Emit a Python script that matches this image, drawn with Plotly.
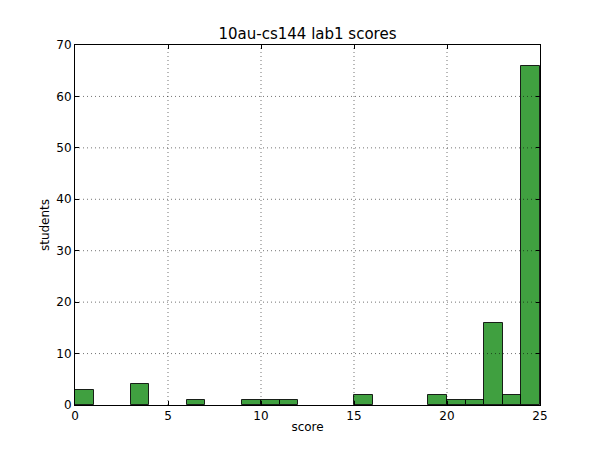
import plotly.graph_objects as go

bin_left = [0, 3, 6, 9, 10, 11, 15, 19, 20, 21, 22, 23, 24]
counts = [3, 4, 1, 1, 1, 1, 2, 2, 1, 1, 16, 2, 66]
bin_width = 1
title = "10au-cs144 lab1 scores"
x_ticks = [0, 5, 10, 15, 20, 25]
y_ticks = [0, 10, 20, 30, 40, 50, 60, 70]

centers = [b + bin_width / 2 for b in bin_left]

fig = go.Figure(go.Bar(
    x=centers, y=counts, width=bin_width,
    marker=dict(color="rgba(0,128,0,0.75)",
                line=dict(color="rgba(0,0,0,0.85)", width=1)),
))

grid_line = dict(color="rgba(0,0,0,0.55)", width=1, dash="1px,3px")
shapes = []
for xv in x_ticks[1:-1]:
    shapes.append(dict(type="line", xref="x", yref="paper", x0=xv, x1=xv, y0=0, y1=1,
                       line=grid_line, layer="above"))
for yv in y_ticks[1:-1]:
    shapes.append(dict(type="line", xref="paper", yref="y", x0=0, x1=1, y0=yv, y1=yv,
                       line=grid_line, layer="above"))

font = dict(family="DejaVu Sans", size=12, color="black")
axis_common = dict(
    showline=True, linecolor="black", linewidth=1, mirror="ticks",
    ticks="inside", ticklen=4, tickcolor="black",
    showgrid=False, zeroline=False, tickfont=font, layer="above traces",
)

fig.update_layout(
    width=600, height=450,
    margin=dict(l=67, r=68, t=37, b=53),
    paper_bgcolor="white", plot_bgcolor="white",
    showlegend=False,
    shapes=shapes,
    title=dict(text=title, x=(67 + 232.5) / 600, xanchor="center", y=1 - 26/450, yanchor="middle",
               font=dict(family="DejaVu Sans", size=15, color="black")),
    xaxis=dict(range=[0, 25], tickvals=x_ticks,
               title=dict(text="score", font=font, standoff=0), **axis_common),
    yaxis=dict(range=[0, 70], tickvals=y_ticks,
               title=dict(text="students", font=font, standoff=4), **axis_common),
    bargap=0,
)

fig.write_html("out.html")
